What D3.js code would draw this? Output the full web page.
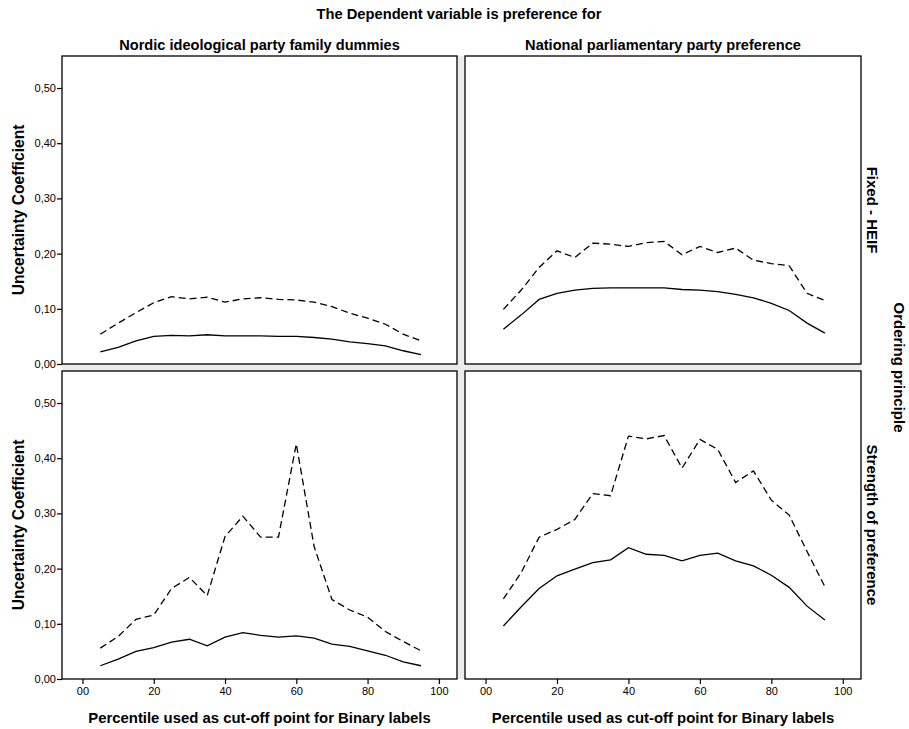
<!DOCTYPE html>
<html>
<head>
<meta charset="utf-8">
<script src="https://cdn.jsdelivr.net/npm/d3@7"></script>
<style>
  html, body { margin: 0; padding: 0; background: #fff; }
  svg { display: block; }
  text { font-family: "Liberation Sans", Arial, sans-serif; fill: #000; }
  .tick text { font-family: "Liberation Sans Narrow", "Liberation Sans", Arial, sans-serif; font-size: 11px; }
</style>
</head>
<body>
<svg id="chart" width="909" height="729"></svg>
<script>
// Cut-off percentiles on the x axis
const percentiles = [5, 10, 15, 20, 25, 30, 35, 40, 45, 50, 55, 60, 65, 70, 75, 80, 85, 90, 95];

// Column and row headings
const columnLabels = ["Nordic ideological party family dummies", "National parliamentary party preference"];
const rowLabels = ["Fixed - HEIF", "Strength of preference"];

// Axis ticks
const yTicks = [0, 0.1, 0.2, 0.3, 0.4, 0.5];
const xTicks = [0, 20, 40, 60, 80, 100];
const xTickLabels = ["00", "20", "40", "60", "80", "100"];

// Uncertainty coefficients: Nordic party families, fixed HEIF ordering
const nordicHeifDashed = [0.054, 0.074, 0.093, 0.111, 0.122, 0.118, 0.121, 0.112, 0.118, 0.120, 0.117, 0.116, 0.112, 0.104, 0.092, 0.083, 0.072, 0.054, 0.042];
const nordicHeifSolid  = [0.022, 0.030, 0.042, 0.050, 0.052, 0.051, 0.053, 0.051, 0.051, 0.051, 0.050, 0.050, 0.048, 0.045, 0.040, 0.037, 0.033, 0.024, 0.017];

// National party preference, fixed HEIF ordering
const nationalHeifDashed = [0.099, 0.134, 0.175, 0.205, 0.193, 0.219, 0.217, 0.213, 0.220, 0.222, 0.198, 0.213, 0.202, 0.210, 0.188, 0.182, 0.178, 0.128, 0.115];
const nationalHeifSolid  = [0.063, 0.089, 0.117, 0.128, 0.134, 0.137, 0.138, 0.138, 0.138, 0.138, 0.135, 0.134, 0.131, 0.126, 0.120, 0.110, 0.097, 0.074, 0.056];

// Nordic party families, strength-of-preference ordering
const nordicStrengthDashed = [0.056, 0.077, 0.108, 0.116, 0.164, 0.184, 0.151, 0.258, 0.295, 0.257, 0.257, 0.426, 0.240, 0.144, 0.125, 0.112, 0.086, 0.068, 0.051];
const nordicStrengthSolid  = [0.024, 0.036, 0.050, 0.057, 0.067, 0.072, 0.060, 0.076, 0.084, 0.079, 0.076, 0.078, 0.074, 0.063, 0.059, 0.051, 0.043, 0.031, 0.024];

// National party preference, strength-of-preference ordering
const nationalStrengthDashed = [0.145, 0.193, 0.257, 0.271, 0.289, 0.336, 0.332, 0.440, 0.435, 0.441, 0.382, 0.434, 0.416, 0.356, 0.377, 0.324, 0.297, 0.231, 0.167];
const nationalStrengthSolid  = [0.096, 0.131, 0.164, 0.187, 0.199, 0.211, 0.216, 0.238, 0.226, 0.224, 0.214, 0.224, 0.228, 0.214, 0.205, 0.188, 0.166, 0.132, 0.107];

const panels = [
  { row: 0, col: 0, dashed: nordicHeifDashed, solid: nordicHeifSolid },
  { row: 0, col: 1, dashed: nationalHeifDashed, solid: nationalHeifSolid },
  { row: 1, col: 0, dashed: nordicStrengthDashed, solid: nordicStrengthSolid },
  { row: 1, col: 1, dashed: nationalStrengthDashed, solid: nationalStrengthSolid }
];

// Panel grid geometry
const colX = [[62, 457], [465, 861]];
const rowY = [[56, 364], [371, 679]];

const svg = d3.select("#chart");

// Light strips between the panels
svg.append("rect").attr("x", colX[0][1]).attr("y", rowY[0][0])
  .attr("width", colX[1][0] - colX[0][1]).attr("height", rowY[1][1] - rowY[0][0]).attr("fill", "#ececec");
svg.append("rect").attr("x", colX[0][0]).attr("y", rowY[0][1])
  .attr("width", colX[1][1] - colX[0][0]).attr("height", rowY[1][0] - rowY[0][1]).attr("fill", "#ececec");

const fmtY = d => d3.format(".2f")(d).replace(".", ",");

panels.forEach(p => {
  const [x0, x1] = colX[p.col];
  const [y0, y1] = rowY[p.row];
  const x = d3.scaleLinear().domain([-5.75, 105.1]).range([x0, x1]);
  const y = d3.scaleLinear().domain([0, 0.558]).range([y1, y0]);
  const g = svg.append("g");

  g.append("rect").attr("x", x0).attr("y", y0).attr("width", x1 - x0).attr("height", y1 - y0)
    .attr("fill", "#fff").attr("stroke", "none");

  const line = d3.line().x((d, i) => x(percentiles[i])).y(d => y(d));
  g.append("path").datum(p.dashed).attr("d", line).attr("fill", "none")
    .attr("stroke", "#000").attr("stroke-width", 1.3).attr("stroke-dasharray", "7,4");
  g.append("path").datum(p.solid).attr("d", line).attr("fill", "none")
    .attr("stroke", "#000").attr("stroke-width", 1.3);

  g.append("rect").attr("x", x0).attr("y", y0).attr("width", x1 - x0).attr("height", y1 - y0)
    .attr("fill", "none").attr("stroke", "#000").attr("stroke-width", 1.3);

  if (p.col === 0) {
    const ay = g.append("g").attr("transform", `translate(${x0},0)`)
      .call(d3.axisLeft(y).tickValues(yTicks).tickFormat(fmtY).tickSize(5).tickPadding(1));
    ay.select(".domain").remove();
    ay.selectAll("line").attr("stroke-width", 1.2);
  }
  if (p.row === 1) {
    const ax = g.append("g").attr("transform", `translate(0,${y1})`)
      .call(d3.axisBottom(x).tickValues(xTicks).tickFormat((d, i) => xTickLabels[i]).tickSize(5).tickPadding(3));
    ax.select(".domain").remove();
    ax.selectAll("line").attr("stroke-width", 1.2);
  }
});

// Titles
svg.append("text").attr("x", 459).attr("y", 19).attr("text-anchor", "middle")
  .attr("font-size", 14.7).attr("font-weight", "bold")
  .text("The Dependent variable is preference for");

columnLabels.forEach((t, i) => {
  svg.append("text").attr("x", (colX[i][0] + colX[i][1]) / 2).attr("y", 50)
    .attr("text-anchor", "middle").attr("font-size", 14.6).attr("font-weight", "bold").text(t);
  svg.append("text").attr("x", (colX[i][0] + colX[i][1]) / 2).attr("y", 723)
    .attr("text-anchor", "middle").attr("font-size", 14.9).attr("font-weight", "bold")
    .text("Percentile used as cut-off point for Binary labels");
});

rowLabels.forEach((t, i) => {
  const cy = (rowY[i][0] + rowY[i][1]) / 2;
  svg.append("text").attr("transform", `translate(24,${cy}) rotate(-90)`)
    .attr("text-anchor", "middle").attr("font-size", 15.6).attr("font-weight", "bold")
    .text("Uncertainty Coefficient");
  svg.append("text").attr("transform", `translate(867,${cy}) rotate(90)`)
    .attr("text-anchor", "middle").attr("font-size", 15).attr("font-weight", "bold").text(t);
});

svg.append("text").attr("transform", `translate(894,${(rowY[0][0] + rowY[1][1]) / 2}) rotate(90)`)
  .attr("text-anchor", "middle").attr("font-size", 15).attr("font-weight", "bold").text("Ordering principle");
</script>
</body>
</html>
